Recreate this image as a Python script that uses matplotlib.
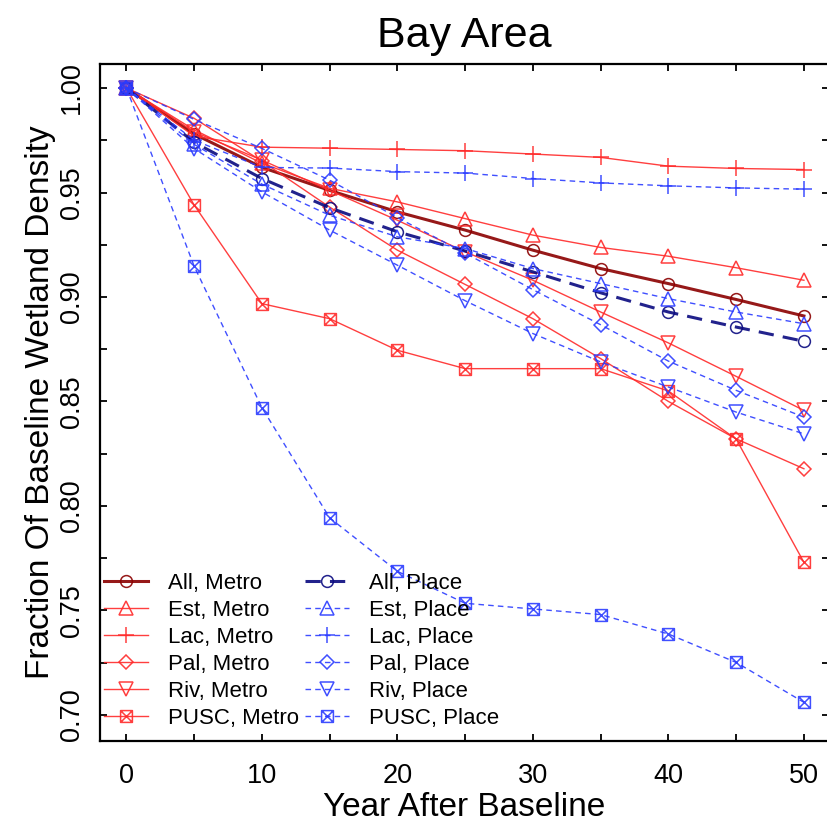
import numpy as np
import matplotlib
matplotlib.use("Agg")
import matplotlib.pyplot as plt
from matplotlib.path import Path
from matplotlib.ticker import MultipleLocator

plt.rcParams['font.family'] = ['Liberation Sans', 'DejaVu Sans']

# years after baseline
years = [0, 5, 10, 15, 20, 25, 30, 35, 40, 45, 50]

# Metro series (solid red)
all_metro = [1.0, 0.978, 0.962, 0.951, 0.9407, 0.932, 0.9224, 0.9136, 0.9064, 0.8988, 0.8909]
est_metro = [1.0, 0.980, 0.964, 0.952, 0.9455, 0.9375, 0.9296, 0.9237, 0.9195, 0.914, 0.908]
lac_metro = [1.0, 0.977, 0.9717, 0.9712, 0.9706, 0.970, 0.9684, 0.9668, 0.9626, 0.9615, 0.961]
pal_metro = [1.0, 0.9855, 0.965, 0.943, 0.9224, 0.906, 0.8896, 0.8705, 0.850, 0.8321, 0.8178]
riv_metro = [1.0, 0.979, 0.9655, 0.951, 0.9367, 0.9216, 0.908, 0.8928, 0.878, 0.862, 0.8457]
pusc_metro = [1.0, 0.944, 0.8968, 0.8896, 0.8745, 0.8657, 0.8657, 0.8657, 0.855, 0.832, 0.773]

# Place series (dashed blue)
all_place = [1.0, 0.974, 0.9567, 0.9427, 0.9312, 0.922, 0.912, 0.902, 0.8928, 0.8856, 0.8788]
est_place = [1.0, 0.973, 0.954, 0.9391, 0.9288, 0.9232, 0.9136, 0.9064, 0.8992, 0.8928, 0.8872]
lac_place = [1.0, 0.975, 0.962, 0.9617, 0.960, 0.9593, 0.9567, 0.9546, 0.9532, 0.9522, 0.9516]
pal_place = [1.0, 0.985, 0.9711, 0.9559, 0.938, 0.921, 0.9035, 0.8867, 0.8693, 0.8553, 0.8425]
riv_place = [1.0, 0.971, 0.9503, 0.932, 0.9152, 0.8982, 0.8825, 0.8689, 0.8569, 0.8449, 0.8345]
pusc_place = [1.0, 0.9147, 0.847, 0.7943, 0.7687, 0.7534, 0.7507, 0.748, 0.7387, 0.7251, 0.706]

# square with a cross, like R pch 7
boxx = Path([(-1, -1), (1, -1), (1, 1), (-1, 1), (-1, -1), (1, 1), (-1, 1), (1, -1)],
            [Path.MOVETO, Path.LINETO, Path.LINETO, Path.LINETO, Path.CLOSEPOLY,
             Path.LINETO, Path.MOVETO, Path.LINETO])

red = '#ff2a2a'
blue = '#2b3cff'

fig = plt.figure(figsize=(8.28, 8.33), dpi=100)
ax = fig.add_axes([100/828, (833-741)/833, 729/828, 677/833])

metro = [
    ("All, Metro", all_metro, 'o', 8.5, '#8b0000', 2.2),
    ("Est, Metro", est_metro, '^', 10, red, 1.0),
    ("Lac, Metro", lac_metro, '+', 12, red, 1.0),
    ("Pal, Metro", pal_metro, 'D', 7.5, red, 1.0),
    ("Riv, Metro", riv_metro, 'v', 10, red, 1.0),
    ("PUSC, Metro", pusc_metro, boxx, 8.5, red, 1.0),
]
place = [
    ("All, Place", all_place, 'o', 8.5, '#0a0a80', 2.2),
    ("Est, Place", est_place, '^', 10, blue, 1.0),
    ("Lac, Place", lac_place, '+', 12, blue, 1.0),
    ("Pal, Place", pal_place, 'D', 7.5, blue, 1.0),
    ("Riv, Place", riv_place, 'v', 10, blue, 1.0),
    ("PUSC, Place", pusc_place, boxx, 8.5, blue, 1.0),
]

handles = []
for lab, vals, mk, ms, col, lw in metro:
    h, = ax.plot(years, vals, color=col, lw=lw, marker=mk, ms=ms, mfc='none',
                 mec=col, mew=1.1, label=lab, alpha=0.9)
    handles.append(h)
for lab, vals, mk, ms, col, lw in place:
    dash = (5, 3) if lw > 2 else (4, 3)
    h, = ax.plot(years, vals, color=col, lw=lw, ls=(0, dash), marker=mk, ms=ms,
                 mfc='none', mec=col, mew=1.1, label=lab, alpha=0.9)
    handles.append(h)

ax.set_xlim(-1.95, 51.85)
ax.set_ylim(0.6875, 1.0115)

ax.xaxis.set_major_locator(MultipleLocator(10))
ax.xaxis.set_minor_locator(MultipleLocator(5))
ax.yaxis.set_major_locator(MultipleLocator(0.05))
ax.yaxis.set_minor_locator(MultipleLocator(0.025))
ax.yaxis.set_major_formatter(matplotlib.ticker.FormatStrFormatter('%.2f'))

ax.tick_params(which='both', direction='in', length=5, width=1.3,
               top=True, right=True, labelsize=19.5)
ax.tick_params(axis='x', pad=16)
ax.tick_params(axis='y', pad=11, labelrotation=90)
for t in ax.get_yticklabels():
    t.set_va('center')

for s in ['left', 'bottom', 'top']:
    ax.spines[s].set_linewidth(1.6)
ax.spines['right'].set_visible(False)

ax.set_title("Bay Area", fontsize=31, pad=12)
ax.set_xlabel("Year After Baseline", fontsize=24, labelpad=2)
ax.set_ylabel("Fraction Of Baseline Wetland Density", fontsize=24, labelpad=2)

ax.legend(handles=handles, ncol=2, loc='lower left', bbox_to_anchor=(0.006, 0.018),
          frameon=False, fontsize=16, handlelength=1.95, handletextpad=0.9,
          columnspacing=0.3, labelspacing=0.27, borderpad=0, borderaxespad=0)

fig.savefig("out.png", dpi=100)
